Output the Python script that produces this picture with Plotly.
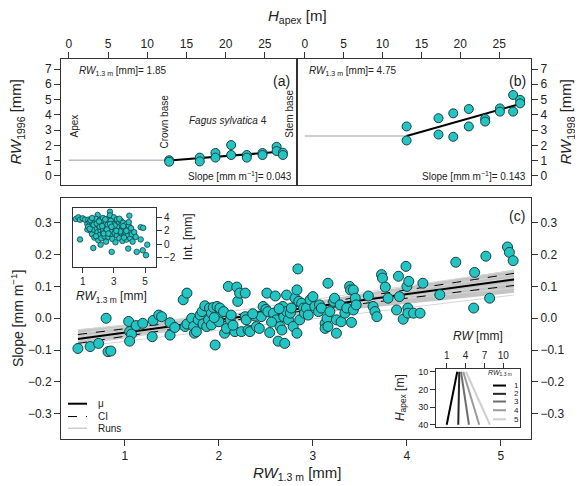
import plotly.graph_objects as go
import numpy as np

# page body has an 8px margin: the figure is placed at (8, 8)
OFF = 8
W, H = 583 - OFF, 486 - OFF
FONT = "Liberation Sans, Arial, Helvetica, sans-serif"
CYAN = "#22c4c4"
EDGE = "#1b3f3f"
AX = "#333333"

def fx(px):
    return (px - OFF) / W

def fy(py):
    return 1 - (py - OFF) / H

# ---------------- Panel (a): Fagus sylvatica 4, 1996 ----------------
a_h = [12.8, 12.8, 16.7, 16.7, 18.7, 18.7, 20.7, 20.7, 22.7, 22.7, 24.7, 24.7, 26.5, 26.5, 27.3, 27.3]
a_rw = [1.03, 0.93, 1.20, 0.95, 1.50, 1.20, 2.02, 1.37, 1.37, 1.20, 1.50, 1.37, 1.91, 1.63, 1.52, 1.37]
a_fit_h = [12.8, 27.3]
a_fit_rw = [1.01, 1.60]
a_base_h = [0, 12.8]
a_base_rw = [1.03, 1.03]

# ---------------- Panel (b): 1998 ----------------
b_h = [13.1, 13.1, 17.2, 17.2, 19.1, 19.1, 21.1, 21.1, 23.2, 23.2, 25.1, 25.1, 26.8, 26.8, 27.7, 27.7]
b_rw = [3.24, 2.32, 3.78, 2.71, 4.10, 2.56, 4.38, 3.24, 3.74, 3.56, 4.42, 4.21, 5.30, 4.21, 4.98, 4.75]
b_fit_h = [13.1, 27.7]
b_fit_rw = [2.62, 4.71]
b_base_h = [0, 13.1]
b_base_rw = [2.62, 2.62]

# ---------------- Panel (c): slope vs RW1.3m ----------------
c_rw = [0.50, 0.63, 0.72, 0.80, 0.82, 0.85, 1.04, 1.05, 1.07, 1.05,
        1.12, 1.19, 1.30, 1.29, 1.36, 1.39, 1.48, 1.48, 1.53, 1.62,
        1.66, 1.64, 1.66, 1.71, 1.73, 1.74, 1.76, 1.78, 1.80, 1.82,
        1.83, 1.85, 1.87, 1.89, 1.90, 1.92, 1.92, 1.94, 1.96, 1.98,
        1.99, 2.00, 2.01, 2.05, 2.06, 2.08, 2.10, 2.12, 2.13, 2.17,
        2.19, 2.20, 2.22, 2.24, 2.28, 2.28, 2.29, 2.31, 2.33, 2.38,
        2.40, 2.43, 2.45, 2.47, 2.50, 2.51, 2.52, 2.54, 2.58, 2.60,
        2.61, 2.63, 2.65, 2.67, 2.68, 2.69, 2.70, 2.72, 2.72, 2.74,
        2.76, 2.77, 2.79, 2.81, 2.83, 2.83, 2.84, 2.85, 2.86, 2.88,
        2.90, 2.91, 2.93, 2.97, 3.00, 3.02, 3.06, 3.07, 3.09, 3.13,
        3.13, 3.15, 3.16, 3.16, 3.18, 3.22, 3.23, 3.25, 3.25, 3.29,
        3.30, 3.34, 3.36, 3.39, 3.40, 3.41, 3.43, 3.43, 3.45, 3.46,
        3.59, 3.64, 3.66, 3.68, 3.73, 3.74, 3.77, 3.80, 3.89, 3.91,
        3.92, 3.96, 3.99, 4.00, 4.01, 4.01, 4.02, 4.07, 4.14, 4.17,
        4.35, 4.52, 4.71, 4.72, 4.84, 4.88, 5.07, 5.09, 5.13, 1.95,
        2.15, 2.36, 2.56, 2.64, 2.95]
c_slope = [-0.095, -0.089, -0.079, 0.000, -0.105, -0.103, -0.010, -0.042, -0.050, -0.072,
           -0.023, -0.016, -0.007, -0.058, 0.010, 0.005, -0.014, -0.053, -0.029, 0.058,
           0.079, -0.026, -0.018, 0.000, -0.026, -0.047, -0.042, -0.005, 0.010, 0.021,
           -0.018, 0.039, -0.026, -0.005, 0.032, 0.016, -0.021, 0.034, -0.084, 0.037,
           0.005, -0.011, 0.032, 0.021, -0.047, -0.032, 0.100, -0.005, 0.010, -0.042,
           0.098, 0.053, 0.079, -0.042, 0.079, 0.005, -0.005, -0.037, -0.042, 0.007,
           -0.026, -0.032, 0.005, 0.037, 0.028, 0.079, 0.021, -0.045, 0.016, 0.070,
           -0.005, -0.072, -0.026, -0.037, 0.037, 0.005, -0.079, 0.073, 0.021, -0.005,
           0.016, 0.032, -0.026, 0.063, 0.089, -0.047, 0.155, 0.053, -0.005, 0.047,
           0.032, 0.016, 0.032, 0.058, 0.068, 0.037, 0.021, 0.042, 0.032, -0.016,
           -0.032, 0.000, 0.110, -0.026, 0.021, 0.053, 0.063, -0.005, -0.047, 0.042,
           -0.011, 0.016, 0.032, 0.100, 0.089, -0.013, 0.026, 0.089, 0.063, 0.042,
           0.070, 0.037, 0.021, 0.005, 0.137, 0.126, 0.098, 0.063, 0.026, 0.132,
           0.068, -0.003, 0.163, 0.100, 0.032, 0.016, 0.116, 0.016, 0.016, 0.110,
           0.074, 0.176, 0.032, 0.144, 0.195, 0.063, 0.224, 0.207, 0.181, 0.002,
           -0.022, 0.014, -0.012, 0.030, 0.010]

mu_x = [0.5, 5.14]
mu_y = [-0.065, 0.122]
ci_x = [0.5, 1.5, 2.3, 3.0, 4.0, 5.14]
ci_half = [0.014, 0.010, 0.008, 0.009, 0.013, 0.019]
band_x = [0.5, 2.3, 5.14]
band_hi = [-0.035, 0.020, 0.153]
band_lo = [-0.085, -0.006, 0.080]
runs_y0 = [-0.036, -0.048, -0.058, -0.070, -0.082, -0.090]
runs_y1 = [0.095, 0.150, 0.110, 0.138, 0.128, 0.073]

# ---------------- Inset 1: intercept vs RW1.3m ----------------
in_rw = [0.57, 0.72, 0.83, 1.00, 1.15, 1.36, 0.83, 1.96, 2.75, 3.99, 1.68, 2.15, 2.86, 3.92,
         4.46, 4.72, 4.72, 4.88, 4.85, 5.14, 5.06,
         1.30, 1.40, 1.45, 1.50, 1.55, 1.60, 1.65, 1.70, 1.75, 1.80, 1.85, 1.90, 1.95, 2.00,
         2.00, 2.05, 2.10, 2.10, 2.15, 2.20, 2.20, 2.25, 2.30, 2.30, 2.35, 2.40, 2.40, 2.45,
         2.50, 2.50, 2.55, 2.60, 2.60, 2.65, 2.70, 2.70, 2.75, 2.80, 2.80, 2.85, 2.90, 2.90,
         2.95, 3.00, 3.00, 3.05, 3.10, 3.10, 3.15, 3.20, 3.20, 3.25, 3.30, 3.30, 3.35, 3.40,
         3.45, 3.50, 3.50, 3.55, 3.60, 3.60, 3.65, 3.70, 3.75, 3.80, 3.80, 3.85, 3.90, 3.95,
         4.00, 4.05, 4.10, 4.15, 4.20, 4.30, 4.40, 1.30, 1.50, 1.70, 1.90, 2.10, 2.30, 2.50,
         2.60, 2.80, 2.90, 3.00, 3.20, 3.40, 3.60, 3.80, 1.35, 1.60, 1.85, 2.05, 2.35, 2.55,
         2.75, 3.05, 3.35, 3.65, 3.95, 2.45, 2.65, 2.85, 3.15, 1.45, 2.25]
in_int = [3.76, 4.00, 3.66, 3.85, 3.66, 3.66, 0.73, 4.35, 4.83, 4.25, -0.54, -0.05, -1.12, -0.63,
          -1.12, 0.73, 2.54, 2.44, -0.88, -0.05, -1.61,
          3.00, 2.50, 3.30, 2.00, 2.80, 1.50, 3.50, 2.20, 1.00, 2.90, 3.80, 2.40, 1.80, 3.20,
          0.60, 2.70, 3.60, 1.40, 2.10, 3.00, 0.90, 2.50, 3.90, 1.70, 2.90, 3.40, 1.20, 2.20,
          3.10, 0.40, 2.60, 3.80, 1.90, 1.10, 3.30, 2.40, 4.30, 2.80, 1.50, 3.60, 2.00, 0.80,
          3.00, 2.50, 4.00, 1.70, 3.30, 0.30, 2.20, 3.70, 1.30, 2.80, 1.90, 3.10, 0.90, 2.40,
          3.50, 1.60, 2.90, 0.50, 2.10, 3.20, 1.20, 2.60, 1.80, 3.00, 0.70, 2.30, 1.40, 2.80,
          1.90, 0.90, 2.40, 1.50, 0.40, 1.80, 1.10, 2.20, 3.60, 2.90, 3.10, 2.60, 2.30, 2.00,
          2.90, 3.50, 2.60, 3.00, 2.60, 1.90, 2.70, 2.00, 2.60, 3.90, 1.20, 3.40, 1.60, 2.20,
          3.00, 2.80, 3.80, 1.00, 3.30, 3.70, 1.60, 2.60, 2.00, 2.30, 2.70]

# ---------------- Inset 2: RW profiles ----------------
prof_rw13 = ["1", "2", "3", "4", "5"]
prof_h = [10, 40]
prof_rw_top = [2.68, 3.00, 3.27, 3.63, 4.06]
prof_rw_bot = [1.00, 2.84, 4.54, 6.17, 7.87]
prof_colors = ["#000000", "#262626", "#6e6e6e", "#9a9a9a", "#cfcfcf"]

fig = go.Figure()

mk_top = dict(size=9, color=CYAN, line=dict(color=EDGE, width=1))
# panel a
fig.add_trace(go.Scatter(x=a_base_h, y=a_base_rw, mode="lines", line=dict(color="#bdbdbd", width=1.5),
                         xaxis="x", yaxis="y", showlegend=False))
fig.add_trace(go.Scatter(x=a_fit_h, y=a_fit_rw, mode="lines", line=dict(color="black", width=2),
                         xaxis="x", yaxis="y", showlegend=False))
fig.add_trace(go.Scatter(x=a_h, y=a_rw, mode="markers", marker=mk_top, xaxis="x", yaxis="y", showlegend=False))
# panel b
fig.add_trace(go.Scatter(x=b_base_h, y=b_base_rw, mode="lines", line=dict(color="#bdbdbd", width=1.5),
                         xaxis="x2", yaxis="y2", showlegend=False))
fig.add_trace(go.Scatter(x=b_fit_h, y=b_fit_rw, mode="lines", line=dict(color="black", width=2),
                         xaxis="x2", yaxis="y2", showlegend=False))
fig.add_trace(go.Scatter(x=b_h, y=b_rw, mode="markers", marker=mk_top, xaxis="x2", yaxis="y2", showlegend=False))

# panel c band / runs / CI / mu
fig.add_trace(go.Scatter(x=band_x, y=band_lo, mode="lines", line=dict(color="#c2c2c2", width=0),
                         xaxis="x3", yaxis="y3", showlegend=False))
fig.add_trace(go.Scatter(x=band_x, y=band_hi, mode="lines", line=dict(color="#c2c2c2", width=0),
                         fill="tonexty", fillcolor="#c4c4c4", xaxis="x3", yaxis="y3", showlegend=False))
for y0, y1 in zip(runs_y0, runs_y1):
    fig.add_trace(go.Scatter(x=mu_x, y=[y0, y1], mode="lines", line=dict(color="#d6d6d6", width=1),
                             xaxis="x3", yaxis="y3", showlegend=False))
mu_at_ci = np.interp(ci_x, mu_x, mu_y)
fig.add_trace(go.Scatter(x=ci_x, y=mu_at_ci + np.array(ci_half), mode="lines",
                         line=dict(color="black", width=1, dash="dash", shape="spline"),
                         xaxis="x3", yaxis="y3", showlegend=False))
fig.add_trace(go.Scatter(x=ci_x, y=mu_at_ci - np.array(ci_half), mode="lines",
                         line=dict(color="black", width=1, dash="dash", shape="spline"),
                         xaxis="x3", yaxis="y3", showlegend=False))
fig.add_trace(go.Scatter(x=mu_x, y=mu_y, mode="lines", line=dict(color="black", width=2),
                         xaxis="x3", yaxis="y3", showlegend=False))
fig.add_trace(go.Scatter(x=c_rw, y=c_slope, mode="markers",
                         marker=dict(size=10, color=CYAN, line=dict(color=EDGE, width=1)),
                         xaxis="x3", yaxis="y3", showlegend=False))
# dummy for right axis
fig.add_trace(go.Scatter(x=[c_rw[0]], y=[c_slope[0]], mode="markers", marker=dict(opacity=0),
                         xaxis="x3", yaxis="y4", showlegend=False, hoverinfo="skip"))

# inset 1
fig.add_trace(go.Scatter(x=in_rw, y=in_int, mode="markers",
                         marker=dict(size=5.5, color=CYAN, line=dict(color=EDGE, width=0.8)),
                         xaxis="x5", yaxis="y5", showlegend=False))
# inset 2
for c, t, b in zip(prof_colors, prof_rw_top, prof_rw_bot):
    fig.add_trace(go.Scatter(x=[t, b], y=prof_h, mode="lines", line=dict(color=c, width=2),
                             xaxis="x6", yaxis="y6", showlegend=False))

tickfont = dict(family=FONT, size=12, color="#222")
base_ax = dict(showgrid=False, zeroline=False, showline=True, linecolor=AX, linewidth=1,
               ticks="outside", ticklen=6, tickcolor=AX, tickfont=tickfont)

top_x = dict(base_ax, range=[-1, 29.1], tickvals=[0, 5, 10, 15, 20, 25], side="top", mirror=True)
top_y = dict(base_ax, range=[-0.58, 7.63], tickvals=list(range(8)), mirror=True)
small = dict(family=FONT, size=10, color="#222")

fig.update_layout(
    width=W, height=H, margin=dict(l=0, r=0, t=0, b=0),
    paper_bgcolor="white", plot_bgcolor="white",
    font=dict(family=FONT, color="#222"),
    xaxis=dict(top_x, domain=[fx(61), fx(297)], anchor="y"),
    yaxis=dict(top_y, domain=[fy(184), fy(57)], anchor="x", side="left"),
    xaxis2=dict(top_x, domain=[fx(297), fx(531)], anchor="y2"),
    yaxis2=dict(top_y, domain=[fy(184), fy(57)], anchor="x2", side="right"),
    xaxis3=dict(base_ax, domain=[fx(61), fx(531)], anchor="y3", range=[0.32, 5.32],
                tickvals=[1, 2, 3, 4, 5], mirror=True),
    yaxis3=dict(base_ax, domain=[fy(441), fy(197)], anchor="x3", range=[-0.378, 0.379],
                tickvals=[-0.3, -0.2, -0.1, 0, 0.1, 0.2, 0.3], tickformat=".1f", mirror=True),
    yaxis4=dict(base_ax, overlaying="y3", anchor="x3", side="right", range=[-0.378, 0.379],
                tickvals=[-0.3, -0.2, -0.1, 0, 0.1, 0.2, 0.3], tickformat=".1f", showline=False),
    xaxis5=dict(base_ax, domain=[fx(72.7), fx(156)], anchor="y5", range=[0.36, 5.70],
                tickvals=[1, 3, 5], mirror=True, ticklen=5, tickfont=small),
    yaxis5=dict(base_ax, domain=[fy(267), fy(207)], anchor="x5", side="right", range=[-3.32, 5.46],
                tickvals=[-2, 0, 2, 4], mirror=True, ticklen=5, tickfont=small),
    xaxis6=dict(base_ax, domain=[fx(436), fx(520)], anchor="y6", side="top", range=[-0.7, 12.65],
                tickvals=[1, 4, 7, 10], mirror=True, ticklen=5, tickfont=small),
    yaxis6=dict(base_ax, domain=[fy(429), fy(371)], anchor="x6", range=[41.1, 8.7],
                tickvals=[10, 20, 30, 40], mirror=True, ticklen=5,
                tickfont=dict(family=FONT, size=9, color="#222")),
)

ann = []

def pa(text, px, py, size=12, xanchor="center", yanchor="middle", angle=0):
    ann.append(dict(text=text, x=fx(px), y=fy(py), xref="paper", yref="paper", showarrow=False,
                    xanchor=xanchor, yanchor=yanchor, textangle=angle,
                    font=dict(family=FONT, size=size, color="#222")))

# titles
pa("<i>H</i><sub>apex</sub> [m]", 297, 14, 15)
pa("<i>RW</i><sub>1996</sub> [mm]", 17, 120, 15, angle=-90)
pa("<i>RW</i><sub>1998</sub> [mm]", 567, 120, 15, angle=-90)
pa("Slope [mm m<sup>−1</sup>]", 17, 319, 14, angle=-90)
pa("<i>RW</i><sub>1.3 m</sub> [mm]", 297, 476, 15)

# panel labels and texts
pa("(a)", 281, 79, 14)
pa("(b)", 517, 79, 14)
pa("(c)", 517, 216, 14)
pa("<i>RW</i><sub>1.3 m</sub> [mm]= 1.85", 77, 69, 10, xanchor="left")
pa("<i>RW</i><sub>1.3 m</sub> [mm]= 4.75", 307, 69, 10, xanchor="left")
pa("Slope [mm m<sup>−1</sup>]= 0.043", 294, 175, 10, xanchor="right")
pa("Slope [mm m<sup>−1</sup>]= 0.143", 528, 175, 10, xanchor="right")
pa("<i>Fagus sylvatica</i> 4", 228, 119, 10)
pa("Apex", 75, 125, 10, angle=-90)
pa("Crown base", 165, 120, 10, angle=-90)
pa("Stem base", 290, 112, 10, angle=-90)

# inset 1 titles
pa("<i>RW</i><sub>1.3 m</sub> [mm]", 111, 298, 12)
pa("Int. [mm]", 188, 237, 12, angle=-90)

# inset 2 titles
pa("<i>RW</i> [mm]", 478, 337, 12)
pa("<i>H</i><sub>apex</sub> [m]", 401, 400, 12, angle=-90)
pa("<i>RW</i><sub>1.3 m</sub>", 500, 375, 7)

# legend c
leg_items = [("μ", 405.7, dict(color="black", width=2)),
             ("CI", 418.7, dict(color="black", width=1, dash="dash")),
             ("Runs", 430.5, dict(color="#b5b5b5", width=1))]
shapes = []
for label, py, ln in leg_items:
    shapes.append(dict(type="line", xref="paper", yref="paper", x0=fx(68), x1=fx(87),
                       y0=fy(py), y1=fy(py), line=ln))
    pa(label, 96, py, 10, xanchor="left")

# legend inset 2
leg2_y = [387.3, 395.7, 403.5, 412.3, 421.5]
for lab, c, py in zip(prof_rw13, prof_colors, leg2_y):
    shapes.append(dict(type="line", xref="paper", yref="paper", x0=fx(493), x1=fx(506),
                       y0=fy(py), y1=fy(py), line=dict(color=c, width=2)))
    pa(lab, 512, py, 8, xanchor="left")

fig.update_layout(annotations=ann, shapes=shapes)
fig.write_html("out.html")
